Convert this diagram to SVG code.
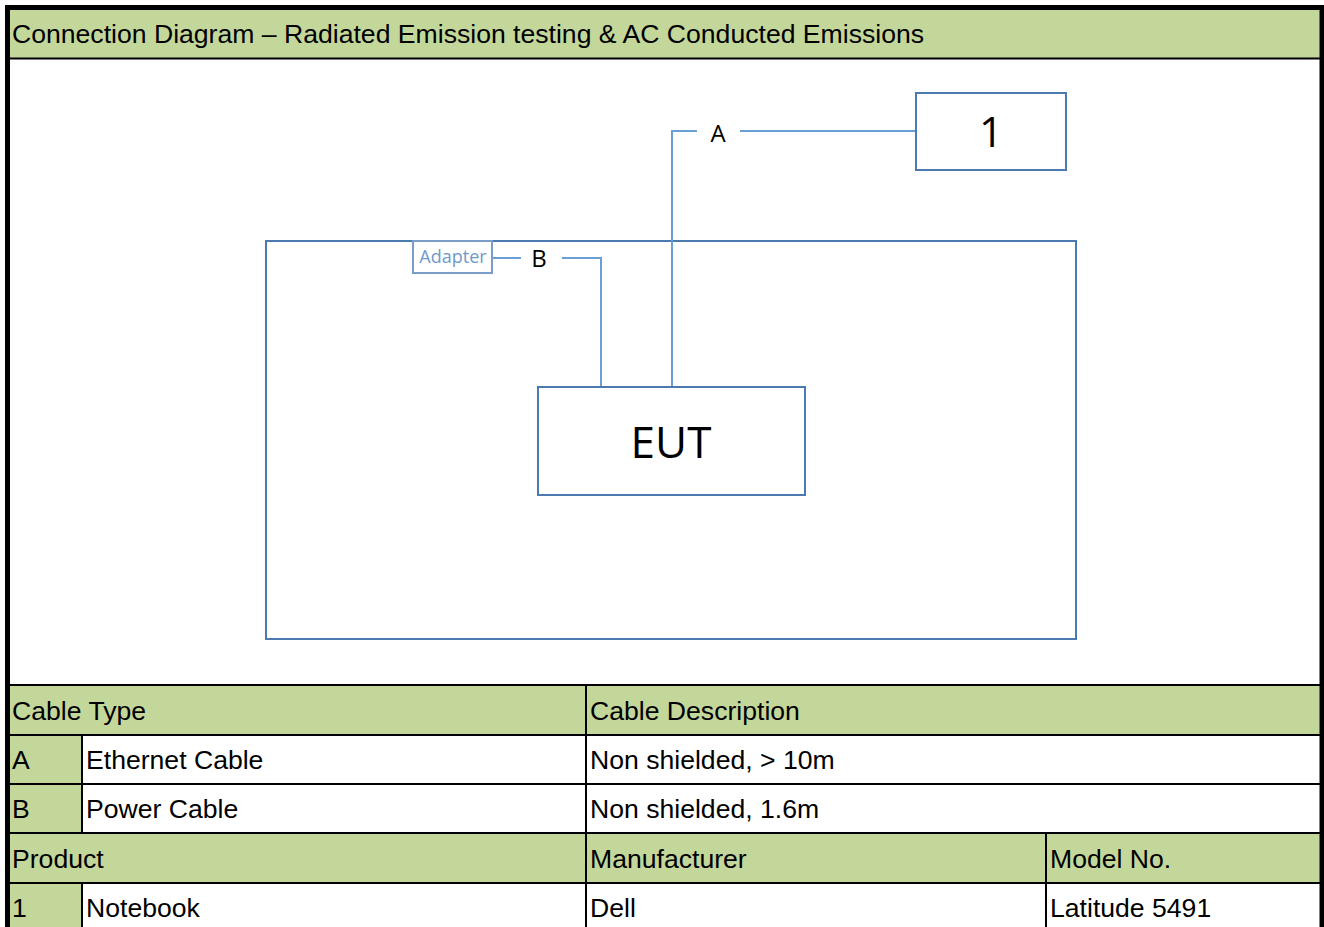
<svg xmlns="http://www.w3.org/2000/svg" width="1324" height="927" viewBox="0 0 1324 927">
<style>
.t{font-family:"Liberation Sans",Arial,sans-serif;font-size:26.6px;fill:#000}
.g{fill:#C4D79B}
.ln{stroke:#000;stroke-width:2}
.box{fill:#fff;stroke:#4A7AAE;stroke-width:2}
.wire{fill:none;stroke:#6A9FD6;stroke-width:2}
.d{font-family:"Open Sans","Noto Sans","Liberation Sans",sans-serif;fill:#000;text-anchor:middle}
</style>
<rect x="0" y="0" width="1324" height="927" fill="#fff"/>
<!-- title band -->
<rect class="g" x="10" y="10" width="1310" height="48"/>
<line class="ln" x1="10" y1="58.5" x2="1320" y2="58.5" stroke-width="1.5"/>
<text class="t" x="12" y="43">Connection Diagram – Radiated Emission testing &amp; AC Conducted Emissions</text>

<!-- diagram -->
<g id="enclosure"><rect class="box" x="266" y="241" width="810" height="398" fill="none"/></g>
<g id="connectors">
<polyline class="wire" points="672,387 672,131 697,131"/>
<line class="wire" x1="740" y1="131" x2="916" y2="131"/>
<line class="wire" x1="492" y1="258" x2="521" y2="258"/>
<polyline class="wire" points="562,258 601,258 601,387"/>
<text class="d" x="718" y="142" font-size="24">A</text>
<text class="d" x="539" y="267" font-size="24">B</text>
</g>
<g id="node-eut"><rect class="box" x="538" y="387" width="267" height="108"/><text class="d" x="671" y="458" font-size="44">EUT</text></g>
<g id="node-1"><rect class="box" x="916" y="93" width="150" height="77"/><text class="d" x="991" y="147" font-size="42">1</text></g>
<g id="node-adapter"><rect x="413" y="241" width="79" height="32" fill="#fff" stroke="#7A9CCB" stroke-width="2"/><text class="d" x="453" y="263" font-size="18" style="fill:#7198CC">Adapter</text></g>

<!-- table -->
<rect class="g" x="10" y="685" width="1310" height="50"/>
<rect class="g" x="10" y="735" width="72" height="98"/>
<rect class="g" x="10" y="833" width="1310" height="50"/>
<rect class="g" x="10" y="883" width="72" height="44"/>
<g class="ln">
<line x1="10" y1="685" x2="1320" y2="685"/>
<line x1="10" y1="735" x2="1320" y2="735"/>
<line x1="10" y1="784" x2="1320" y2="784"/>
<line x1="10" y1="833" x2="1320" y2="833"/>
<line x1="10" y1="883" x2="1320" y2="883"/>
<line x1="82" y1="735" x2="82" y2="833"/>
<line x1="82" y1="883" x2="82" y2="927"/>
<line x1="586" y1="685" x2="586" y2="927"/>
<line x1="1046" y1="833" x2="1046" y2="927"/>
</g>
<text class="t" x="12" y="720">Cable Type</text>
<text class="t" x="590" y="720">Cable Description</text>
<text class="t" x="12" y="769">A</text>
<text class="t" x="86" y="769">Ethernet Cable</text>
<text class="t" x="590" y="769">Non shielded, &gt; 10m</text>
<text class="t" x="12" y="818">B</text>
<text class="t" x="86" y="818">Power Cable</text>
<text class="t" x="590" y="818">Non shielded, 1.6m</text>
<text class="t" x="12" y="868">Product</text>
<text class="t" x="590" y="868">Manufacturer</text>
<text class="t" x="1050" y="868">Model No.</text>
<text class="t" x="12" y="917">1</text>
<text class="t" x="86" y="917">Notebook</text>
<text class="t" x="590" y="917">Dell</text>
<text class="t" x="1050" y="917">Latitude 5491</text>

<!-- outer border -->
<rect x="7.5" y="7.5" width="1314.5" height="930" fill="none" stroke="#000" stroke-width="5"/>
</svg>
